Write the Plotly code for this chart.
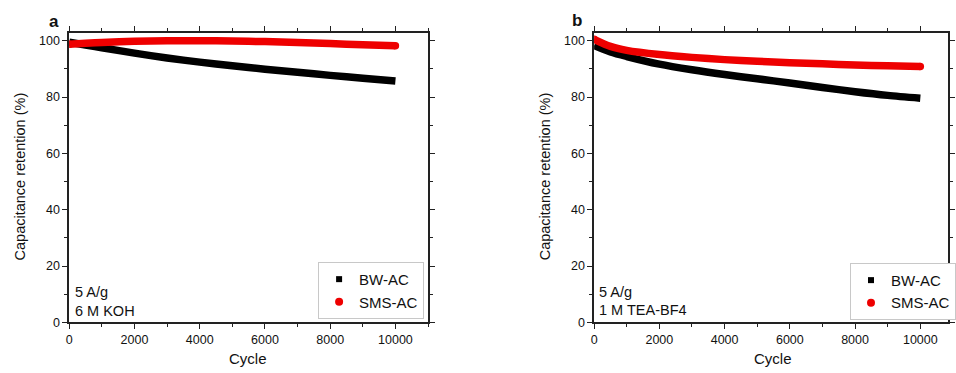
import plotly.graph_objects as go

# ---- data ----
cycles = [0, 500, 1000, 2000, 3000, 4000, 5000, 6000, 7000, 8000, 9000, 10000]
a_bw = [99.5, 98.5, 97.5, 95.6, 93.9, 92.4, 91.1, 89.9, 88.8, 87.7, 86.7, 85.7]
a_sms = [98.8, 99.1, 99.4, 99.8, 100.0, 100.0, 99.9, 99.7, 99.4, 99.0, 98.6, 98.2]
b_bw = [98.3, 96.0, 94.4, 91.7, 89.7, 88.0, 86.5, 85.0, 83.4, 81.9, 80.6, 79.6]
b_sms = [100.5, 98.0, 96.6, 95.1, 94.1, 93.3, 92.7, 92.2, 91.8, 91.4, 91.1, 90.9]
series_names = ["BW-AC", "SMS-AC"]
xticks = [0, 2000, 4000, 6000, 8000, 10000]
xticklabels = ["0", "2000", "4000", "6000", "8000", "10000"]
yticks = [0, 20, 40, 60, 80, 100]
yticklabels = ["0", "20", "40", "60", "80", "100"]
notes_a = ["5 A/g", "6 M KOH"]
notes_b = ["5 A/g", "1 M TEA-BF4"]

W, H = 956, 373
FONT = "Liberation Sans, Arial, sans-serif"
BLACK = "#000000"
RED = "#ee0000"

def px(x):
    return x / W

def py(y):
    return 1 - y / H

fig = go.Figure()

def add_panel(xa, ya, bw, sms, legend):
    for vals, col, sym, name, lsize in [(bw, BLACK, "square", series_names[0], 6),
                                        (sms, RED, "circle", series_names[1], 8)]:
        fig.add_trace(go.Scatter(x=cycles, y=vals, mode="lines",
                                 line=dict(color=col, width=7.5, shape="spline", smoothing=0.8),
                                 xaxis=xa, yaxis=ya, showlegend=False, hoverinfo="skip"))
        if sym == "circle":
            # round the ends of the thick red curve like the reference
            fig.add_trace(go.Scatter(x=[cycles[0], cycles[-1]], y=[vals[0], vals[-1]], mode="markers",
                                     marker=dict(color=col, size=7.5, symbol="circle"),
                                     xaxis=xa, yaxis=ya, showlegend=False, hoverinfo="skip"))
        fig.add_trace(go.Scatter(x=[None], y=[None], mode="markers",
                                 marker=dict(color=col, size=lsize, symbol=sym),
                                 name=name, xaxis=xa, yaxis=ya, legend=legend,
                                 showlegend=True))

add_panel("x", "y", a_bw, a_sms, "legend")
add_panel("x2", "y2", b_bw, b_sms, "legend2")

ydom = [py(328.5), py(33.5)]
axis_common = dict(showline=True, linecolor="#222", linewidth=1.5, mirror="allticks",
                   ticks="outside", ticklen=5, tickwidth=1.2, tickcolor="#222",
                   showgrid=False, zeroline=False,
                   tickfont=dict(family=FONT, size=12.5, color="#111"))
minor = dict(ticks="outside", ticklen=3, tickwidth=1.2, tickcolor="#222", showgrid=False)

fig.update_layout(
    width=W, height=H,
    margin=dict(l=0, r=0, t=0, b=0, pad=0),
    plot_bgcolor="white", paper_bgcolor="white",
    font=dict(family=FONT, color="#111"),
    xaxis=dict(domain=[px(67), px(430)], range=[0, 11000], tickvals=xticks, ticktext=xticklabels,
               minor=dict(dtick=1000, **minor), anchor="y", **axis_common),
    yaxis=dict(domain=ydom, range=[0, 102.8], tickvals=yticks, ticktext=yticklabels,
               minor=dict(dtick=10, **minor), anchor="x", **axis_common),
    xaxis2=dict(domain=[px(598), 1.0], range=[0, (W - 598) / 0.033], tickvals=xticks,
                ticktext=xticklabels,
                minor=dict(dtick=1000, **minor), anchor="y2", **axis_common),
    yaxis2=dict(domain=ydom, range=[0, 102.8], tickvals=yticks, ticktext=yticklabels,
                minor=dict(dtick=10, **minor), anchor="x2", **axis_common),
    legend=dict(x=px(426), xanchor="right", y=py(325), yanchor="bottom",
                bgcolor="white", bordercolor="#c8c8c8", borderwidth=1,
                font=dict(family=FONT, size=15, color="#111"),
                tracegroupgap=0),
    legend2=dict(x=px(857), xanchor="left", y=py(326), yanchor="bottom",
                 bgcolor="white", bordercolor="#c8c8c8", borderwidth=1,
                 font=dict(family=FONT, size=15, color="#111"),
                 tracegroupgap=0),
)

ann = []
def text(x, y, s, size, xanchor="center", bold=False, angle=0):
    ann.append(dict(x=px(x), y=py(y), xref="paper", yref="paper", text=f"<b>{s}</b>" if bold else s,
                    showarrow=False, xanchor=xanchor, yanchor="middle", textangle=angle,
                    font=dict(family=FONT, size=size, color="#111")))

text(52, 22, "a", 17, bold=True)
text(581, 21, "b", 17, bold=True)
text(248, 365, "Cycle", 15)
text(779, 365, "Cycle", 15)
text(17, 180, "Capacitance retention (%)", 14.5, angle=-90)
text(548, 180, "Capacitance retention (%)", 14.5, angle=-90)
text(71, 298, notes_a[0], 14.5, xanchor="left")
text(71, 317, notes_a[1], 14.5, xanchor="left")
text(601, 298, notes_b[0], 14.5, xanchor="left")
text(601, 316, notes_b[1], 14.5, xanchor="left")
fig.update_layout(annotations=ann)

fig.write_html("out.html")
